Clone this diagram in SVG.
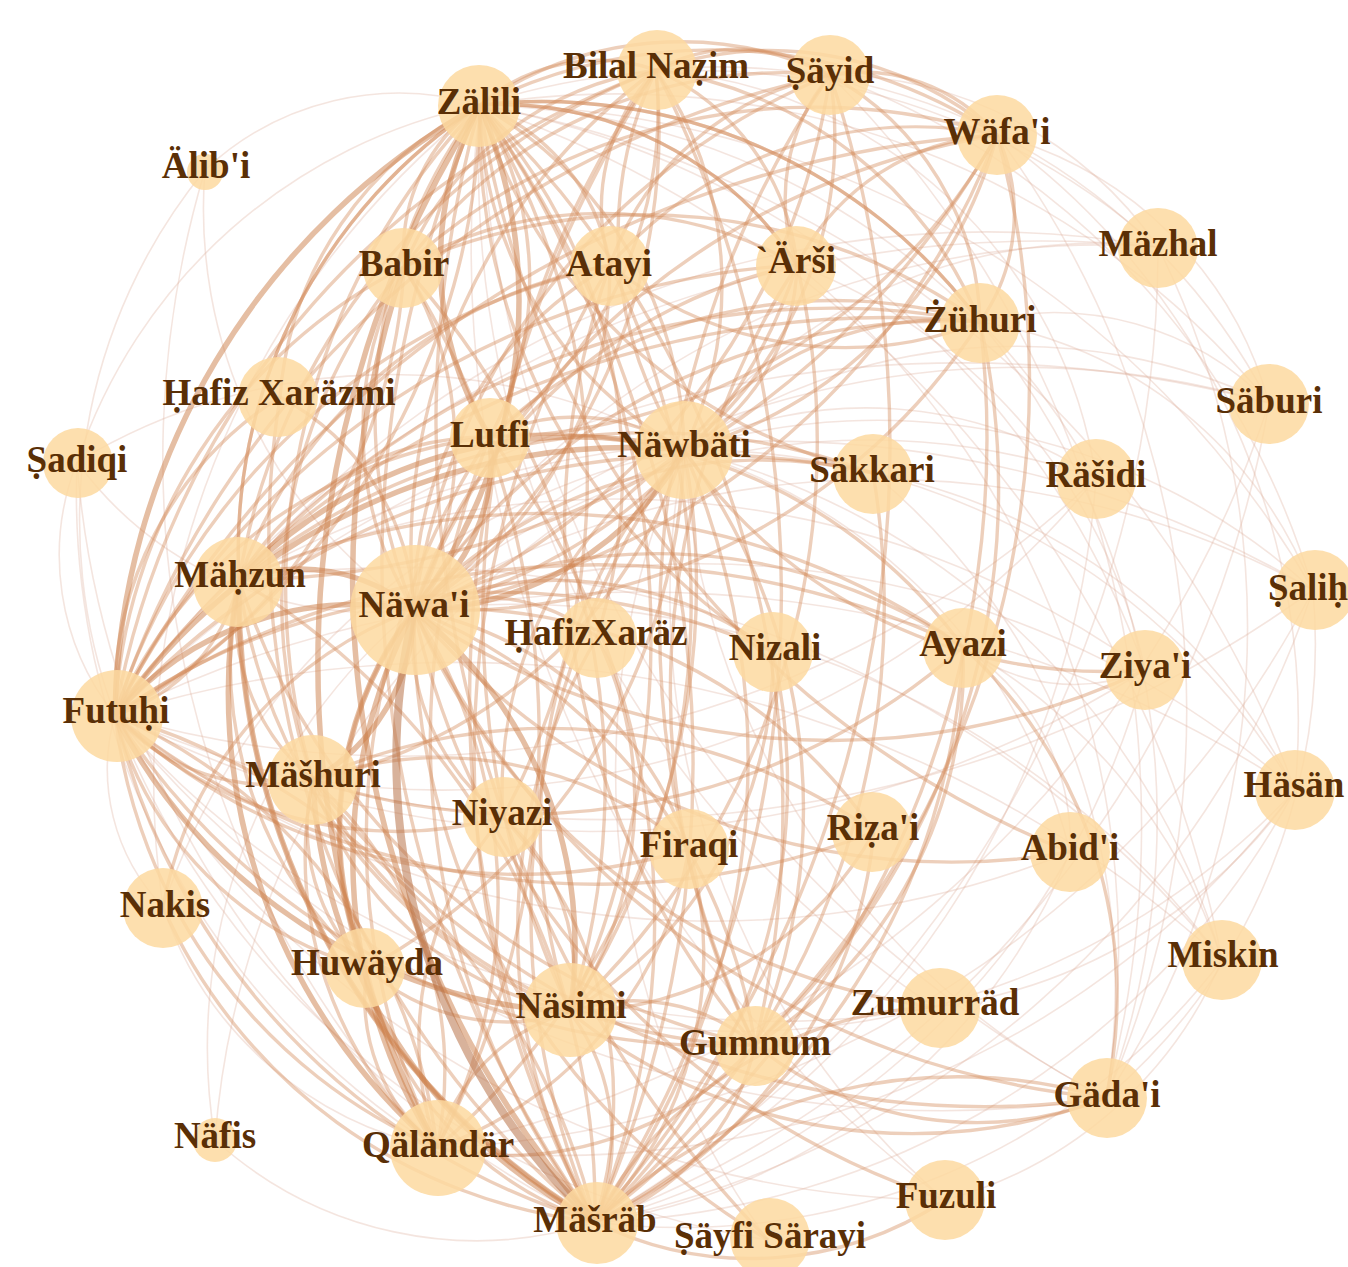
<svg xmlns="http://www.w3.org/2000/svg" width="1348" height="1267" viewBox="0 0 1348 1267">
<style>
.e0{fill:none;stroke:#b87348;stroke-width:8;stroke-opacity:.55}
.e1{fill:none;stroke:#cc7d48;stroke-width:5.5;stroke-opacity:.5}
.e2{fill:none;stroke:#d58c5e;stroke-width:3.4;stroke-opacity:.42}
.e3{fill:none;stroke:#dcaa94;stroke-width:1.6;stroke-opacity:.3}
.node circle{fill:#fdd9a0;fill-opacity:.85}
.node text{font-family:"Liberation Serif","Times New Roman",serif;font-weight:bold;font-size:37px;fill:#5a2f06;text-anchor:middle}
</style>
<rect width="1348" height="1267" fill="#ffffff"/>
<g id="connectors">
<g class="e3">
<path d="M1158 247A828 828 0 0 0 414 610"/>
<path d="M1158 247A693 693 0 0 0 480 105"/>
<path d="M1158 247A516 516 0 0 0 684 450"/>
<path d="M1158 247A1143 1143 0 0 0 115 715"/>
<path d="M1158 247A1126 1126 0 0 1 595 1222"/>
<path d="M1158 247A977 977 0 0 0 239 580"/>
<path d="M1269 403A880 880 0 0 0 414 610"/>
<path d="M1269 403A587 587 0 0 0 684 450"/>
<path d="M1269 403A843 843 0 0 0 480 105"/>
<path d="M1269 403A1195 1195 0 0 0 115 715"/>
<path d="M1269 403A1061 1061 0 0 1 595 1222"/>
<path d="M1269 403A1116 1116 0 0 1 437 1148"/>
<path d="M1269 403A300 300 0 0 0 980 322"/>
<path d="M1096 478A695 695 0 0 0 414 610"/>
<path d="M1096 478A720 720 0 0 0 480 105"/>
<path d="M1096 478A1009 1009 0 0 1 115 715"/>
<path d="M1096 478A413 413 0 0 0 684 450"/>
<path d="M1096 478A897 897 0 0 1 595 1222"/>
<path d="M1096 478A839 839 0 0 1 313 780"/>
<path d="M1313 590A899 899 0 0 0 414 610"/>
<path d="M1313 590A1204 1204 0 0 1 115 715"/>
<path d="M1313 590A644 644 0 0 0 684 450"/>
<path d="M1313 590A964 964 0 0 0 480 105"/>
<path d="M1313 590A957 957 0 0 1 595 1222"/>
<path d="M1313 590A1074 1074 0 0 0 239 580"/>
<path d="M1313 590A1039 1039 0 0 1 437 1148"/>
<path d="M1295 790A899 899 0 0 0 414 610"/>
<path d="M1295 790A1182 1182 0 0 0 115 715"/>
<path d="M1295 790A699 699 0 0 0 684 450"/>
<path d="M1295 790A823 823 0 0 1 595 1222"/>
<path d="M1295 790A1065 1065 0 0 0 480 105"/>
<path d="M1295 790A930 930 0 0 1 437 1148"/>
<path d="M1295 790A758 758 0 0 1 570 1012"/>
<path d="M1222 960A881 881 0 0 0 414 610"/>
<path d="M1222 960A1134 1134 0 0 0 115 715"/>
<path d="M1222 960A1132 1132 0 0 0 480 105"/>
<path d="M1222 960A680 680 0 0 1 595 1222"/>
<path d="M1222 960A742 742 0 0 0 684 450"/>
<path d="M1222 960A1054 1054 0 0 0 239 580"/>
<path d="M1145 670A1031 1031 0 0 1 115 715"/>
<path d="M1145 670A873 873 0 0 0 480 105"/>
<path d="M1145 670A910 910 0 0 0 239 580"/>
<path d="M1145 670A779 779 0 0 1 595 1222"/>
<path d="M1070 852A965 965 0 0 1 115 715"/>
<path d="M1070 852A602 602 0 0 1 595 1222"/>
<path d="M1070 852A557 557 0 0 0 684 450"/>
<path d="M77 462A368 368 0 0 0 414 610"/>
<path d="M77 462A538 538 0 0 1 480 105"/>
<path d="M77 462A607 607 0 0 1 684 450"/>
<path d="M77 462A256 256 0 0 0 115 715"/>
<path d="M77 462A919 919 0 0 0 595 1222"/>
<path d="M77 462A775 775 0 0 0 437 1148"/>
<path d="M215 1140A566 566 0 0 1 414 610"/>
<path d="M215 1140A834 834 0 0 1 684 450"/>
<path d="M215 1140A389 389 0 0 0 595 1222"/>
<path d="M205 170A487 487 0 0 0 414 610"/>
<path d="M205 170A283 283 0 0 1 480 105"/>
<path d="M205 170A552 552 0 0 0 115 715"/>
<path d="M205 170A1005 1005 0 0 0 437 1148"/>
<path d="M163 907A198 198 0 0 1 115 715"/>
<path d="M163 907A862 862 0 0 1 480 105"/>
<path d="M163 907A693 693 0 0 1 684 450"/>
<path d="M163 907A365 365 0 0 0 437 1148"/>
<path d="M945 1200A961 961 0 0 1 115 715"/>
<path d="M945 1200A1190 1190 0 0 1 480 105"/>
<path d="M945 1200A794 794 0 0 1 684 450"/>
<path d="M768 1240A794 794 0 0 1 684 450"/>
<path d="M768 1240A838 838 0 0 1 115 715"/>
<path d="M935 1007A870 870 0 0 1 115 715"/>
<path d="M935 1007A1010 1010 0 0 1 480 105"/>
<path d="M1106 1098A1062 1062 0 0 1 115 715"/>
<path d="M1106 1098A1174 1174 0 0 1 480 105"/>
<path d="M1106 1098A773 773 0 0 1 684 450"/>
<path d="M997 135A969 969 0 0 1 1106 1098"/>
<path d="M980 322A786 786 0 0 1 1106 1098"/>
<path d="M1158 247A853 853 0 0 1 1106 1098"/>
<path d="M997 135A720 720 0 0 1 1295 790"/>
<path d="M980 322A427 427 0 0 1 1313 590"/>
<path d="M997 135A382 382 0 0 1 1269 403"/>
<path d="M963 647A183 183 0 0 0 1145 670"/>
<path d="M963 647A231 231 0 0 1 1070 852"/>
<path d="M873 473A667 667 0 0 1 1106 1098"/>
<path d="M797 265A888 888 0 0 1 1106 1098"/>
<path d="M830 75A1060 1060 0 0 1 1106 1098"/>
<path d="M1158 247A400 400 0 0 0 830 75"/>
<path d="M1269 403A620 620 0 0 0 656 70"/>
<path d="M1313 590A780 780 0 0 0 830 75"/>
<path d="M1295 790A600 600 0 0 0 873 473"/>
<path d="M1222 960A560 560 0 0 0 963 647"/>
<path d="M1145 670A560 560 0 0 0 797 265"/>
<path d="M1096 478A480 480 0 0 0 656 70"/>
<path d="M1222 960A420 420 0 0 1 945 1200"/>
<path d="M1295 790A520 520 0 0 1 935 1007"/>
<path d="M1313 590A600 600 0 0 1 1106 1098"/>
</g>
<g class="e2">
<path d="M480 105A332 332 0 0 1 490 437"/>
<path d="M480 105A401 401 0 0 0 684 450"/>
<path d="M480 105A206 206 0 0 1 610 265"/>
<path d="M480 105A911 911 0 0 1 570 1012"/>
<path d="M480 105A712 712 0 0 1 503 817"/>
<path d="M480 105A695 695 0 0 0 313 780"/>
<path d="M480 105A533 533 0 0 0 239 580"/>
<path d="M480 105A979 979 0 0 1 755 1045"/>
<path d="M480 105A1123 1123 0 0 0 595 1222"/>
<path d="M656 70A592 592 0 0 0 414 610"/>
<path d="M656 70A381 381 0 0 1 684 450"/>
<path d="M656 70A179 179 0 0 0 480 105"/>
<path d="M656 70A320 320 0 0 0 404 267"/>
<path d="M656 70A403 403 0 0 1 490 437"/>
<path d="M656 70A842 842 0 0 0 115 715"/>
<path d="M656 70A659 659 0 0 0 239 580"/>
<path d="M656 70A1154 1154 0 0 1 595 1222"/>
<path d="M656 70A946 946 0 0 0 570 1012"/>
<path d="M830 75A351 351 0 0 0 480 105"/>
<path d="M830 75A678 678 0 0 0 414 610"/>
<path d="M830 75A402 402 0 0 1 684 450"/>
<path d="M830 75A291 291 0 0 0 610 265"/>
<path d="M830 75A960 960 0 0 0 115 715"/>
<path d="M830 75A1171 1171 0 0 1 595 1222"/>
<path d="M830 75A174 174 0 0 0 656 70"/>
<path d="M997 135A518 518 0 0 0 480 105"/>
<path d="M997 135A347 347 0 0 0 656 70"/>
<path d="M997 135A752 752 0 0 0 414 610"/>
<path d="M997 135A444 444 0 0 1 684 450"/>
<path d="M997 135A590 590 0 0 1 490 437"/>
<path d="M997 135A1056 1056 0 0 0 115 715"/>
<path d="M997 135A879 879 0 0 1 239 580"/>
<path d="M997 135A177 177 0 0 0 830 75"/>
<path d="M404 267A343 343 0 0 0 414 610"/>
<path d="M404 267A533 533 0 0 0 115 715"/>
<path d="M404 267A763 763 0 0 1 570 1012"/>
<path d="M404 267A521 521 0 0 0 313 780"/>
<path d="M404 267A882 882 0 0 1 437 1148"/>
<path d="M610 265A397 397 0 0 0 414 610"/>
<path d="M610 265A748 748 0 0 1 570 1012"/>
<path d="M610 265A669 669 0 0 0 115 715"/>
<path d="M610 265A487 487 0 0 0 239 580"/>
<path d="M610 265A957 957 0 0 0 595 1222"/>
<path d="M797 265A515 515 0 0 0 414 610"/>
<path d="M797 265A355 355 0 0 0 480 105"/>
<path d="M797 265A217 217 0 0 1 684 450"/>
<path d="M797 265A781 781 0 0 1 570 1012"/>
<path d="M797 265A817 817 0 0 0 115 715"/>
<path d="M980 322A635 635 0 0 0 414 610"/>
<path d="M980 322A545 545 0 0 0 480 105"/>
<path d="M980 322A322 322 0 0 0 684 450"/>
<path d="M980 322A950 950 0 0 0 115 715"/>
<path d="M980 322A503 503 0 0 0 490 437"/>
<path d="M980 322A785 785 0 0 0 239 580"/>
<path d="M980 322A979 979 0 0 1 595 1222"/>
<path d="M280 397A252 252 0 0 1 414 610"/>
<path d="M280 397A354 354 0 0 1 480 105"/>
<path d="M280 397A883 883 0 0 0 595 1222"/>
<path d="M280 397A358 358 0 0 0 115 715"/>
<path d="M490 437A467 467 0 0 0 115 715"/>
<path d="M490 437A792 792 0 0 1 595 1222"/>
<path d="M490 437A713 713 0 0 0 437 1148"/>
<path d="M490 437A289 289 0 0 0 239 580"/>
<path d="M490 437A194 194 0 0 1 684 450"/>
<path d="M684 450A777 777 0 0 1 595 1222"/>
<path d="M684 450A740 740 0 0 1 437 1148"/>
<path d="M684 450A496 496 0 0 1 313 780"/>
<path d="M684 450A599 599 0 0 1 755 1045"/>
<path d="M684 450A573 573 0 0 0 570 1012"/>
<path d="M684 450A607 607 0 0 1 367 968"/>
<path d="M684 450A409 409 0 0 0 503 817"/>
<path d="M873 473A479 479 0 0 0 414 610"/>
<path d="M873 473A643 643 0 0 0 239 580"/>
<path d="M873 473A538 538 0 0 1 480 105"/>
<path d="M873 473A799 799 0 0 1 595 1222"/>
<path d="M873 473A796 796 0 0 0 115 715"/>
<path d="M239 580A734 734 0 0 0 595 1222"/>
<path d="M239 580A544 544 0 0 0 570 1012"/>
<path d="M239 580A213 213 0 0 0 313 780"/>
<path d="M239 580A409 409 0 0 0 367 968"/>
<path d="M239 580A695 695 0 0 0 755 1045"/>
<path d="M239 580A183 183 0 0 1 115 715"/>
<path d="M414 610A225 225 0 0 0 503 817"/>
<path d="M414 610A364 364 0 0 1 689 849"/>
<path d="M414 610A553 553 0 0 1 755 1045"/>
<path d="M414 610A185 185 0 0 1 597 637"/>
<path d="M414 610A361 361 0 0 1 773 652"/>
<path d="M414 610A550 550 0 0 1 963 647"/>
<path d="M414 610A511 511 0 0 1 874 832"/>
<path d="M414 610A361 361 0 0 0 367 968"/>
<path d="M115 715A208 208 0 0 0 313 780"/>
<path d="M115 715A401 401 0 0 0 503 817"/>
<path d="M115 715A589 589 0 0 0 689 849"/>
<path d="M115 715A661 661 0 0 1 773 652"/>
<path d="M115 715A851 851 0 0 1 963 647"/>
<path d="M115 715A720 720 0 0 0 755 1045"/>
<path d="M115 715A540 540 0 0 0 437 1148"/>
<path d="M115 715A698 698 0 0 0 595 1222"/>
<path d="M115 715A357 357 0 0 0 367 968"/>
<path d="M313 780A346 346 0 0 0 570 1012"/>
<path d="M313 780A388 388 0 0 0 437 1148"/>
<path d="M313 780A515 515 0 0 0 755 1045"/>
<path d="M313 780A196 196 0 0 0 367 968"/>
<path d="M503 817A415 415 0 0 1 595 1222"/>
<path d="M503 817A337 337 0 0 0 437 1148"/>
<path d="M689 849A385 385 0 0 1 595 1222"/>
<path d="M367 968A341 341 0 0 0 595 1222"/>
<path d="M570 1012A211 211 0 0 1 595 1222"/>
<path d="M570 1012A190 190 0 0 0 437 1148"/>
<path d="M755 1045A239 239 0 0 1 595 1222"/>
<path d="M755 1045A188 188 0 0 0 570 1012"/>
<path d="M963 647A663 663 0 0 1 313 780"/>
<path d="M963 647A727 727 0 0 0 239 580"/>
<path d="M963 647A518 518 0 0 0 490 437"/>
<path d="M963 647A449 449 0 0 1 755 1045"/>
<path d="M963 647A683 683 0 0 1 595 1222"/>
<path d="M963 647A473 473 0 0 1 1106 1098"/>
<path d="M773 652A597 597 0 0 1 595 1222"/>
<path d="M773 652A620 620 0 0 1 480 105"/>
<path d="M597 637A585 585 0 0 0 595 1222"/>
<path d="M597 637A545 545 0 0 0 480 105"/>
<path d="M874 832A480 480 0 0 1 595 1222"/>
<path d="M874 832A768 768 0 0 1 115 715"/>
<path d="M1106 1098A847 847 0 0 1 414 610"/>
<path d="M1106 1098A543 543 0 0 1 570 1012"/>
<path d="M1106 1098A854 854 0 0 1 313 780"/>
<path d="M1106 1098A355 355 0 0 1 755 1045"/>
<path d="M1106 1098A526 526 0 0 0 595 1222"/>
<path d="M935 1007A655 655 0 0 1 414 610"/>
<path d="M935 1007A402 402 0 0 0 595 1222"/>
<path d="M945 1200A794 794 0 0 1 414 610"/>
<path d="M945 1200A351 351 0 0 1 595 1222"/>
<path d="M768 1240A722 722 0 0 1 414 610"/>
<path d="M768 1240A1171 1171 0 0 1 480 105"/>
<path d="M163 907A389 389 0 0 1 414 610"/>
<path d="M163 907A535 535 0 0 0 595 1222"/>
<path d="M1070 852A699 699 0 0 1 414 610"/>
<path d="M1070 852A952 952 0 0 1 480 105"/>
<path d="M1145 670A733 733 0 0 1 414 610"/>
<path d="M1145 670A511 511 0 0 1 684 450"/>
<path d="M689 849A391 391 0 0 1 437 1148"/>
<path d="M755 1045A334 334 0 0 1 437 1148"/>
<path d="M503 817A206 206 0 0 1 570 1012"/>
<path d="M597 637A376 376 0 0 1 570 1012"/>
<path d="M773 652A413 413 0 0 1 570 1012"/>
<path d="M874 832A353 353 0 0 1 570 1012"/>
<path d="M689 849A382 382 0 0 0 313 780"/>
<path d="M874 832A563 563 0 0 0 313 780"/>
<path d="M980 322A757 757 0 0 1 755 1045"/>
<path d="M797 265A781 781 0 0 0 755 1045"/>
<path d="M830 75A973 973 0 0 0 755 1045"/>
<path d="M997 135A942 942 0 0 1 755 1045"/>
<path d="M610 265A793 793 0 0 0 755 1045"/>
<path d="M480 105A509 509 0 0 0 414 610"/>
<path d="M656 70A592 592 0 0 1 414 610"/>
<path d="M830 75A678 678 0 0 1 414 610"/>
<path d="M997 135A752 752 0 0 1 414 610"/>
<path d="M480 105A401 401 0 0 1 684 450"/>
<path d="M656 70A381 381 0 0 0 684 450"/>
<path d="M797 265A515 515 0 0 1 414 610"/>
<path d="M980 322A635 635 0 0 1 414 610"/>
<path d="M610 265A397 397 0 0 1 414 610"/>
<path d="M404 267A343 343 0 0 1 414 610"/>
<path d="M480 105A1123 1123 0 0 1 595 1222"/>
<path d="M656 70A1154 1154 0 0 0 595 1222"/>
<path d="M684 450A777 777 0 0 0 595 1222"/>
<path d="M239 580A734 734 0 0 1 595 1222"/>
<path d="M490 437A792 792 0 0 0 595 1222"/>
<path d="M437 1148A538 538 0 0 0 414 610"/>
<path d="M115 715A698 698 0 0 1 595 1222"/>
<path d="M115 715A540 540 0 0 1 437 1148"/>
<path d="M313 780A388 388 0 0 1 437 1148"/>
<path d="M367 968A193 193 0 0 0 437 1148"/>
<path d="M367 968A208 208 0 0 0 570 1012"/>
<path d="M480 105A711 711 0 0 1 115 715"/>
<path d="M404 267A533 533 0 0 1 115 715"/>
<path d="M239 580A533 533 0 0 1 480 105"/>
<path d="M480 105A355 355 0 0 1 797 265"/>
<path d="M480 105A545 545 0 0 1 980 322"/>
<path d="M656 70A410 410 0 0 1 980 322"/>
<path d="M656 70A240 240 0 0 1 797 265"/>
<path d="M830 75A289 289 0 0 1 980 322"/>
<path d="M610 265A374 374 0 0 0 980 322"/>
<path d="M404 267A579 579 0 0 1 980 322"/>
<path d="M404 267A393 393 0 0 1 797 265"/>
<path d="M997 135A188 188 0 0 1 980 322"/>
<path d="M997 135A238 238 0 0 0 797 265"/>
<path d="M830 75A193 193 0 0 0 797 265"/>
<path d="M656 70A200 200 0 0 0 610 265"/>
<path d="M480 105A179 179 0 0 0 404 267"/>
<path d="M830 75A467 467 0 0 0 404 267"/>
<path d="M997 135A608 608 0 0 0 404 267"/>
<path d="M997 135A408 408 0 0 0 610 265"/>
</g>
<g class="e1">
<path d="M480 105A509 509 0 0 1 414 610"/>
<path d="M239 580A178 178 0 0 1 414 610"/>
<path d="M437 1148A538 538 0 0 1 414 610"/>
<path d="M115 715A317 317 0 0 1 414 610"/>
<path d="M313 780A524 524 0 0 0 595 1222"/>
<path d="M480 105A711 711 0 0 0 115 715"/>
<path d="M684 450A314 314 0 0 1 414 610"/>
<path d="M414 610A431 431 0 0 1 570 1012"/>
<path d="M480 105A1044 1044 0 0 0 437 1148"/>
<path d="M115 715A628 628 0 0 1 684 450"/>
<path d="M239 580A464 464 0 0 1 684 450"/>
<path d="M313 780A198 198 0 0 0 414 610"/>
<path d="M367 968A361 361 0 0 1 414 610"/>
<path d="M490 437A189 189 0 0 1 414 610"/>
<path d="M404 267A974 974 0 0 0 595 1222"/>
<path d="M239 580A601 601 0 0 0 437 1148"/>
<path d="M115 715A543 543 0 0 0 570 1012"/>
<path d="M480 105A332 332 0 0 0 490 437"/>
<path d="M239 580A734 734 0 0 0 595 1222"/>
</g>
<g class="e0">
<path d="M414 610A638 638 0 0 0 595 1222"/>
</g>
</g>
<g id="nodes">
<g id="n-zalili" class="node"><circle cx="479" cy="106" r="41"/><text x="479" y="114">Zälili</text></g>
<g id="n-bilal-nazim" class="node"><circle cx="657" cy="70" r="40"/><text x="656" y="78">Bilal Naẓim</text></g>
<g id="n-sayid" class="node"><circle cx="830" cy="75" r="40"/><text x="830" y="83">Ṣäyid</text></g>
<g id="n-wafai" class="node"><circle cx="997" cy="135" r="40"/><text x="997" y="144">Wäfa'i</text></g>
<g id="n-alibi" class="node"><circle cx="205" cy="172" r="18"/><text x="206" y="178">Älib'i</text></g>
<g id="n-babir" class="node"><circle cx="403" cy="268" r="40"/><text x="404" y="276">Babir</text></g>
<g id="n-atayi" class="node"><circle cx="610" cy="266" r="40"/><text x="609" y="276">Atayi</text></g>
<g id="n-arsi" class="node"><circle cx="796" cy="266" r="40"/><text x="796" y="273">`Ärši</text></g>
<g id="n-mazhal" class="node"><circle cx="1158" cy="248" r="40"/><text x="1158" y="256">Mäzhal</text></g>
<g id="n-zuhuri" class="node"><circle cx="980" cy="323" r="40"/><text x="980" y="332">Żühuri</text></g>
<g id="n-hafiz-xarazmi" class="node"><circle cx="278" cy="397" r="40"/><text x="279" y="405">Ḥafiz Xaräzmi</text></g>
<g id="n-saburi" class="node"><circle cx="1269" cy="404" r="40"/><text x="1269" y="413">Säburi</text></g>
<g id="n-sadiqi" class="node"><circle cx="78" cy="463" r="35"/><text x="77" y="472">Ṣadiqi</text></g>
<g id="n-lutfi" class="node"><circle cx="490" cy="438" r="40"/><text x="490" y="447">Lutfi</text></g>
<g id="n-nawbati" class="node"><circle cx="684" cy="450" r="49"/><text x="684" y="457">Näwbäti</text></g>
<g id="n-sakkari" class="node"><circle cx="873" cy="474" r="40"/><text x="872" y="482">Säkkari</text></g>
<g id="n-rasidi" class="node"><circle cx="1096" cy="479" r="40"/><text x="1096" y="487">Räšidi</text></g>
<g id="n-mahzun" class="node"><circle cx="238" cy="582" r="45"/><text x="240" y="587">Mäḥzun</text></g>
<g id="n-nawai" class="node"><circle cx="415" cy="610" r="65"/><text x="414" y="617">Näwa'i</text></g>
<g id="n-hafizxaraz" class="node"><circle cx="597" cy="638" r="40"/><text x="596" y="645">ḤafizXaräz</text></g>
<g id="n-nizali" class="node"><circle cx="773" cy="652" r="40"/><text x="775" y="660">Nizali</text></g>
<g id="n-ayazi" class="node"><circle cx="963" cy="648" r="40"/><text x="963" y="656">Ayazi</text></g>
<g id="n-salih" class="node"><circle cx="1315" cy="590" r="40"/><text x="1308" y="600">Ṣaliḥ</text></g>
<g id="n-ziyai" class="node"><circle cx="1145" cy="670" r="40"/><text x="1145" y="678">Ziya'i</text></g>
<g id="n-futuhi" class="node"><circle cx="117" cy="716" r="46"/><text x="116" y="723">Futuḥi</text></g>
<g id="n-mashuri" class="node"><circle cx="313" cy="780" r="45"/><text x="313" y="787">Mäšhuri</text></g>
<g id="n-hasan" class="node"><circle cx="1295" cy="790" r="40"/><text x="1294" y="797">Häsän</text></g>
<g id="n-niyazi" class="node"><circle cx="503" cy="817" r="40"/><text x="502" y="825">Niyazi</text></g>
<g id="n-firaqi" class="node"><circle cx="689" cy="849" r="40"/><text x="689" y="857">Firaqi</text></g>
<g id="n-rizai" class="node"><circle cx="872" cy="832" r="40"/><text x="873" y="840">Riẓa'i</text></g>
<g id="n-abidi" class="node"><circle cx="1070" cy="852" r="40"/><text x="1070" y="860">Abid'i</text></g>
<g id="n-nakis" class="node"><circle cx="163" cy="908" r="40"/><text x="165" y="917">Nakis</text></g>
<g id="n-miskin" class="node"><circle cx="1222" cy="960" r="40"/><text x="1223" y="967">Miskin</text></g>
<g id="n-huwayda" class="node"><circle cx="365" cy="968" r="40"/><text x="367" y="975">Huwäyda</text></g>
<g id="n-nasimi" class="node"><circle cx="570" cy="1010" r="47"/><text x="571" y="1018">Näsimi</text></g>
<g id="n-zumurrad" class="node"><circle cx="940" cy="1008" r="40"/><text x="935" y="1015">Zumurräd</text></g>
<g id="n-gumnum" class="node"><circle cx="755" cy="1046" r="40"/><text x="755" y="1055">Gumnum</text></g>
<g id="n-gadai" class="node"><circle cx="1107" cy="1098" r="40"/><text x="1107" y="1107">Gäda'i</text></g>
<g id="n-nafis" class="node"><circle cx="215" cy="1140" r="22"/><text x="215" y="1148">Näfis</text></g>
<g id="n-qalandar" class="node"><circle cx="438" cy="1148" r="48"/><text x="438" y="1157">Qäländär</text></g>
<g id="n-masrab" class="node"><circle cx="597" cy="1223" r="41"/><text x="595" y="1232">Mäšräb</text></g>
<g id="n-sayfi-sarayi" class="node"><circle cx="770" cy="1238" r="40"/><text x="770" y="1248">Ṣäyfi Särayi</text></g>
<g id="n-fuzuli" class="node"><circle cx="945" cy="1200" r="40"/><text x="946" y="1208">Fuzuli</text></g>
</g>
</svg>
